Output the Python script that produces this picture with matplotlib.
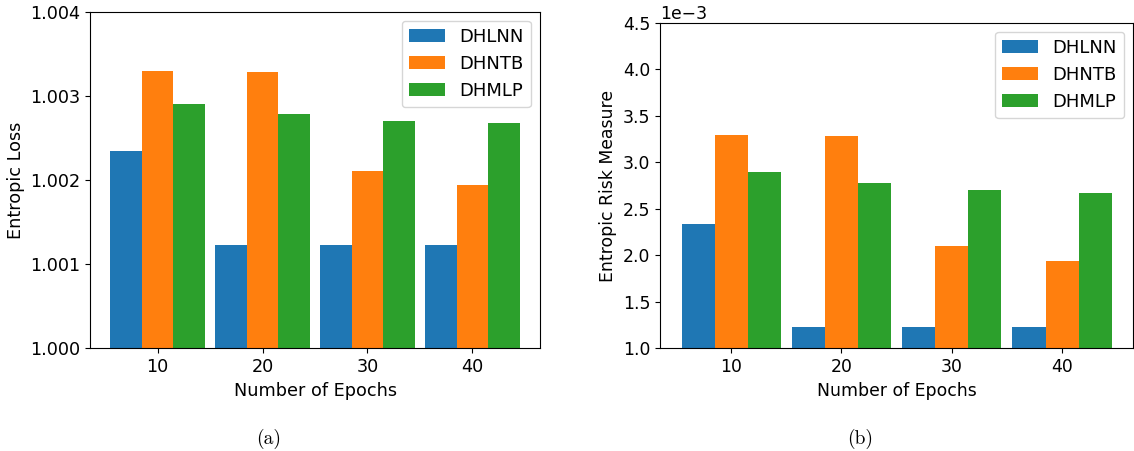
import numpy as np
import matplotlib
matplotlib.use("Agg")
import matplotlib.pyplot as plt
from matplotlib.ticker import MultipleLocator

# Training lengths compared
epochs = [10, 20, 30, 40]
models = ["DHLNN", "DHNTB", "DHMLP"]

# Entropic loss per model and epoch count
loss_dhlnn = [1.00234, 1.00123, 1.00123, 1.00123]
loss_dhntb = [1.00329, 1.00328, 1.00211, 1.00194]
loss_dhmlp = [1.00290, 1.00278, 1.00270, 1.00268]

# Entropic risk measure per model and epoch count
risk_dhlnn = [2.34e-3, 1.23e-3, 1.23e-3, 1.23e-3]
risk_dhntb = [3.29e-3, 3.28e-3, 2.10e-3, 1.94e-3]
risk_dhmlp = [2.90e-3, 2.78e-3, 2.70e-3, 2.67e-3]

colors = ["#1f77b4", "#ff7f0e", "#2ca02c"]
bar_w = 3.0
offsets = [-bar_w, 0.0, bar_w]

W, H = 1134, 451
fig = plt.figure(figsize=(W / 100, H / 100), dpi=100)


def px_axes(left, top, right, bottom):
    return fig.add_axes([left / W, 1 - bottom / H, (right - left) / W, (bottom - top) / H])


def draw(ax, series, fs):
    x = np.array(epochs, dtype=float)
    for vals, off, col, name in zip(series, offsets, colors, models):
        ax.bar(x + off, vals, width=bar_w, color=col, label=name)
    ax.set_xticks(epochs)
    ax.tick_params(labelsize=fs)
    ax.set_xlabel("Number of Epochs", fontsize=fs)
    ax.legend(loc="upper right", fontsize=13)


# (a) entropic loss
ax1 = px_axes(90, 11.7, 540, 348.3)
draw(ax1, [loss_dhlnn, loss_dhntb, loss_dhmlp], 12.7)
ax1.set_ylim(1.000, 1.004)
ax1.yaxis.set_major_locator(MultipleLocator(0.001))
ax1.yaxis.set_major_formatter(plt.FuncFormatter(lambda v, p: f"{v:.3f}"))
ax1.set_ylabel("Entropic Loss", fontsize=12.7)

# (b) entropic risk measure
ax2 = px_axes(660, 22.7, 1133.3, 348.3)
draw(ax2, [risk_dhlnn, risk_dhntb, risk_dhmlp], 12.4)
ax2.set_ylim(1.0e-3, 4.5e-3)
ax2.yaxis.set_major_locator(MultipleLocator(0.5e-3))
ax2.ticklabel_format(axis="y", style="sci", scilimits=(-3, -3))
ax2.yaxis.get_offset_text().set_fontsize(12.4)
ax2.set_ylabel("Entropic Risk Measure", fontsize=12.4)

# Sub-figure captions
fig.text(269 / W, 1 - 439 / H, "(a)", ha="center", va="center", fontsize=14, family="cmr10")
fig.text(860 / W, 1 - 439 / H, "(b)", ha="center", va="center", fontsize=14, family="cmr10")

fig.savefig("out.png", dpi=100)
